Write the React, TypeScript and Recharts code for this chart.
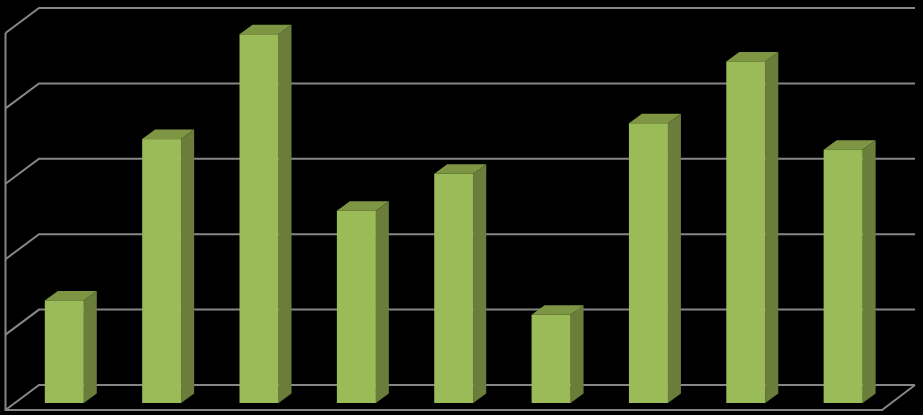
import React from "react";
import { BarChart, Bar, XAxis, YAxis, CartesianGrid } from "recharts";

const categories = ["1", "2", "3", "4", "5", "6", "7", "8", "9"];
const values = [1.36, 3.5, 4.89, 2.55, 3.04, 1.17, 3.71, 4.53, 3.36];
const gridValues = [0, 1, 2, 3, 4, 5];
const rows = categories.map((category, i) => ({ category, value: values[i] }));

const W = 923;
const H = 415;
const DX = 13;
const DY = 9.5;
const GRID = "#868686";
const LEFT_X = 5.5;
const BACK_X = 39;
const RIGHT_X = 915;
const FRONT_RIGHT_X = 882;
const MARGIN_TOP = 26;
const MARGIN_BOTTOM = 12;

const Box3D = (props: any) => {
  const { x, y, width, height } = props;
  const r = x + width;
  const b = y + height;
  return (
    <g>
      <path d={`M${x},${y}L${x + DX},${y - DY}L${r + DX},${y - DY}L${r},${y}Z`} fill="#7E9644" />
      <path d={`M${r},${y}L${r + DX},${y - DY}L${r + DX},${b - DY}L${r},${b}Z`} fill="#6A7D3B" />
      <rect x={x} y={y} width={width} height={height} fill="#9BBB59" />
    </g>
  );
};

const gridLine = (p: any) => {
  const y = p.y1;
  const front = y + 7;
  const back = y - 18;
  const isFloor = y > H - MARGIN_BOTTOM - 1;
  return (
    <g key={`g-${y}`} fill="none" stroke={GRID} strokeWidth={2}>
      <path d={`M${LEFT_X},${front}L${BACK_X},${back}L${RIGHT_X},${back}`} />
      {isFloor && <path d={`M${LEFT_X},${MARGIN_TOP + 7}L${LEFT_X},${front}L${FRONT_RIGHT_X},${front}L${RIGHT_X},${back}`} />}
    </g>
  );
};

export default function App() {
  return (
    <div style={{ position: "absolute", left: 0, top: 0, width: W, height: H, background: "#000", overflow: "hidden" }}>
      <BarChart
        width={W}
        height={H}
        data={rows}
        margin={{ top: MARGIN_TOP, right: 31, bottom: MARGIN_BOTTOM, left: 15.8 }}
        style={{ background: "#000" }}
      >
        <CartesianGrid
          vertical={false}
          horizontal={gridLine}
          horizontalValues={gridValues}
        />
        <XAxis dataKey="category" hide />
        <YAxis hide domain={[0, 5]} ticks={gridValues} />
        <Bar dataKey="value" barSize={39} shape={Box3D} isAnimationActive={false} />
      </BarChart>
    </div>
  );
}
